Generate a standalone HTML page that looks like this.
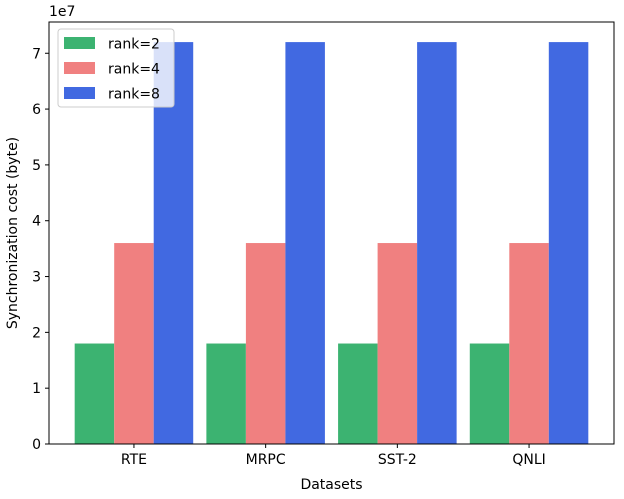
<!DOCTYPE html>
<html><head><meta charset="utf-8"><style>
body{margin:0;background:#fff;font-family:"Liberation Sans","DejaVu Sans",sans-serif;}
text{font-family:"DejaVu Sans","Liberation Sans",sans-serif;}
</style></head><body>
<svg id="chart" width="624" height="494" xmlns="http://www.w3.org/2000/svg"></svg>
<script>
const categories = ["RTE","MRPC","SST-2","QNLI"];
const seriesNames = ["rank=2","rank=4","rank=8"];
const rank2 = [1.8,1.8,1.8,1.8];
const rank4 = [3.6,3.6,3.6,3.6];
const rank8 = [7.2,7.2,7.2,7.2];
const yTicks = [0,1,2,3,4,5,6,7];
const colors = ["#3cb371","#f08080","#4169e1"];
const series=[rank2,rank4,rank8];
const L=49,R=614,T=22,B=444;
const xmin=-0.645,xmax=3.645,ymax=7.56;
const xs=v=>L+(v-xmin)/(xmax-xmin)*(R-L);
const ys=v=>B-v/ymax*(B-T);
const svg=document.getElementById('chart');
const NS="http://www.w3.org/2000/svg";
function mk(t,a,p){const e=document.createElementNS(NS,t);for(const k in a)e.setAttribute(k,a[k]);(p||svg).appendChild(e);return e;}
const w=0.3;
series.forEach((s,si)=>{s.forEach((v,i)=>{
 const x0=xs(i+(si-1)*w-w/2),x1=xs(i+(si-1)*w+w/2);
 const r=mk('rect',{x:x0,y:ys(v),width:x1-x0,height:B-ys(v),fill:colors[si]});
 
 
});});
const ax=mk('rect',{x:L,y:T,width:R-L,height:B-T,fill:'none',stroke:'#000','stroke-width':1});


yTicks.forEach(t=>{const y=ys(t);
 mk('line',{x1:L-4,x2:L,y1:y,y2:y,stroke:'#000'});
 const tx=mk('text',{x:L-8,y:y+5,'text-anchor':'end','font-size':14});tx.textContent=t;
 
 
});
categories.forEach((c,i)=>{const x=xs(i);
 mk('line',{x1:x,x2:x,y1:B,y2:B+4,stroke:'#000'});
 const tx=mk('text',{x:x,y:B+20,'text-anchor':'middle','font-size':14});tx.textContent=c;
 
 
});
let t=mk('text',{x:L,y:T-6,'font-size':14});t.textContent='1e7';


t=mk('text',{x:(L+R)/2,y:489,'text-anchor':'middle','font-size':14});t.textContent='Datasets';


t=mk('text',{x:0,y:0,'text-anchor':'middle','font-size':14,transform:`translate(17,${(T+B)/2}) rotate(-90)`});t.textContent='Synchronization cost (byte)';


const lg=mk('g',{});


mk('rect',{x:58,y:29,width:116,height:78,rx:3,fill:'rgba(255,255,255,0.8)',stroke:'#ccc'},lg);
seriesNames.forEach((n,i)=>{const y=37+i*25;
 mk('rect',{x:64,y:y,width:31,height:12,fill:colors[i]},lg);
 const tx=mk('text',{x:108,y:y+11.5,'font-size':14},lg);tx.textContent=n;
 
 
});
</script>
</body></html>
